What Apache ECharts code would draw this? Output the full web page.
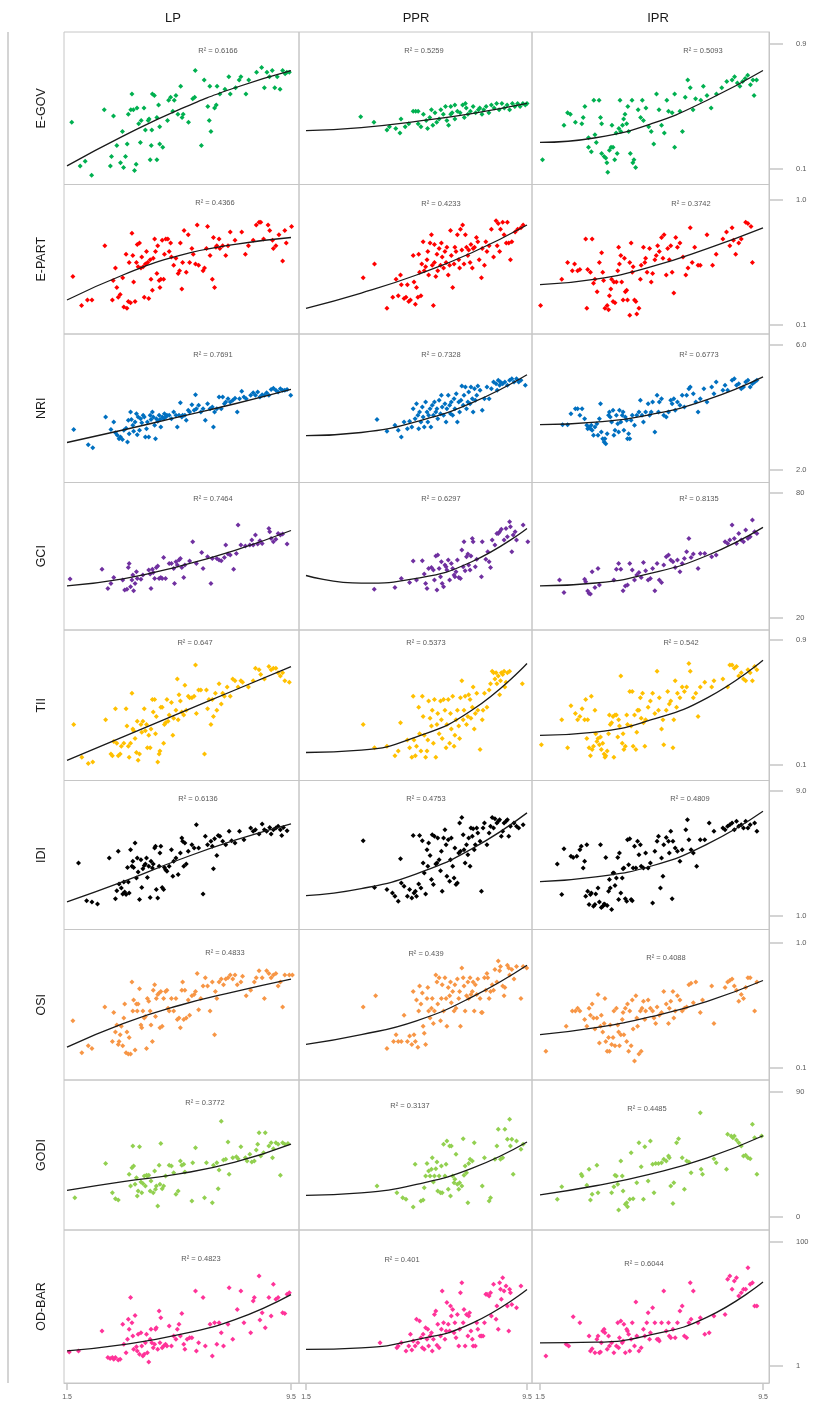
<!DOCTYPE html>
<html><head><meta charset="utf-8">
<script src="https://cdn.jsdelivr.net/npm/echarts@6/dist/echarts.min.js"></script>
<style>html,body{margin:0;padding:0;background:#fff}#c{width:820px;height:1426px}</style>
</head><body><div id="c"></div>
<script>
// ---------- categories / ticks ----------
const columns = ['LP', 'PPR', 'IPR'];
const indicators = ['E-GOV', 'E-PART', 'NRI', 'GCI', 'TII', 'IDI', 'OSI', 'GODI', 'OD-BAR'];
const pointColors = ['#00b050', '#ff0000', '#0070c0', '#7030a0', '#ffc000', '#000000', '#f79646', '#92d050', '#ff3399'];
const yTickValues = [[0.1, 0.9], [0.1, 1.0], [2, 6], [20, 80], [0.1, 0.9], [1, 9], [0.1, 1.0], [0, 90], [1, 100]];
const yTickLabels = [['0.1', '0.9'], ['0.1', '1.0'], ['2.0', '6.0'], ['20', '80'], ['0.1', '0.9'], ['1.0', '9.0'], ['0.1', '1.0'], ['0', '90'], ['1', '100']];
const xTickValues = [1.5, 9.5];
const xTickLabels = ['1.5', '9.5'];
const fitX = [1.5, 3.5, 5.5, 7.5, 9.5];

// ---------- R² values ----------
const r2EGOV = ['0.6166', '0.5259', '0.5093'];
const r2EPART = ['0.4366', '0.4233', '0.3742'];
const r2NRI = ['0.7691', '0.7328', '0.6773'];
const r2GCI = ['0.7464', '0.6297', '0.8135'];
const r2TII = ['0.647', '0.5373', '0.542'];
const r2IDI = ['0.6136', '0.4753', '0.4809'];
const r2OSI = ['0.4833', '0.439', '0.4088'];
const r2GODI = ['0.3772', '0.3137', '0.4485'];
const r2ODBAR = ['0.4823', '0.401', '0.6044'];

// ---------- trend lines (values at fitX) ----------
const fitEGOV = [[0.12, 0.31, 0.48, 0.62, 0.73], [0.345, 0.365, 0.405, 0.455, 0.52], [0.27, 0.30, 0.39, 0.54, 0.73]];
const fitEPART = [[0.28, 0.46, 0.60, 0.68, 0.73], [0.22, 0.33, 0.46, 0.62, 0.82], [0.39, 0.43, 0.52, 0.65, 0.80]];
const fitNRI = [[2.88, 3.28, 3.70, 4.12, 4.58], [3.10, 3.20, 3.55, 4.15, 5.05], [3.45, 3.53, 3.78, 4.25, 4.98]];
const fitGCI = [[35.4, 38.8, 44.8, 52.5, 62.0], [40.4, 36.7, 39.0, 47.0, 63.0], [35.4, 36.8, 41.5, 50.0, 63.5]];
const fitTII = [[0.13, 0.28, 0.43, 0.58, 0.73], [0.18, 0.195, 0.28, 0.45, 0.75], [0.29, 0.31, 0.39, 0.53, 0.77]];
const fitIDI = [[1.9, 3.2, 4.6, 5.85, 6.9], [2.3, 2.75, 3.7, 5.3, 7.6], [3.2, 3.5, 4.2, 5.6, 7.7]];
const fitOSI = [[0.25, 0.42, 0.55, 0.65, 0.74], [0.27, 0.34, 0.44, 0.61, 0.84], [0.34, 0.39, 0.47, 0.58, 0.73]];
const fitGODI = [[19.2, 25.5, 31.0, 39.5, 52.5], [15.6, 17.3, 23.5, 35.0, 54.0], [16.0, 22.5, 31.0, 42.5, 58.5]];
const fitODBAR = [[13.0, 18.0, 26.0, 38.0, 58.0], [14.3, 15.5, 22.0, 35.0, 62.0], [19.5, 20.0, 26.0, 40.0, 68.0]];

// ---------- scatter points [x, y] ----------
const egovLP = [[1.67,0.40],[1.97,0.12],[2.15,0.15],[2.38,0.06],[2.83,0.48],[3.05,0.12],[3.09,0.18],[3.16,0.44],[3.28,0.25],[3.41,0.14],[3.52,0.11],[3.59,0.18],[3.65,0.26],[3.69,0.45],[3.78,0.48],[3.82,0.58],[3.91,0.09],[4.0,0.49],[4.06,0.39],[3.97,0.13],[4.15,0.41],[4.25,0.49],[4.3,0.35],[4.4,0.41],[4.43,0.42],[4.47,0.16],[4.51,0.25],[4.55,0.58],[4.62,0.57],[4.71,0.43],[4.71,0.16],[4.77,0.51],[4.81,0.26],[4.92,0.24],[4.81,0.37],[5.09,0.41],[5.13,0.54],[5.2,0.56],[5.33,0.54],[5.39,0.57],[5.46,0.45],[5.56,0.63],[5.61,0.43],[5.65,0.45],[5.99,0.55],[6.06,0.56],[6.08,0.73],[6.3,0.25],[6.4,0.67],[6.53,0.5],[6.58,0.41],[6.6,0.63],[6.64,0.34],[6.77,0.49],[6.83,0.51],[6.86,0.63],[6.96,0.58],[7.14,0.61],[7.28,0.69],[7.33,0.58],[7.52,0.62],[7.65,0.67],[7.71,0.69],[7.89,0.58],[7.99,0.67],[8.27,0.72],[8.45,0.75],[8.55,0.62],[8.64,0.72],[8.73,0.69],[8.83,0.73],[8.92,0.62],[9.01,0.69],[9.11,0.61],[9.2,0.73],[9.29,0.71],[9.35,0.72],[9.44,0.72],[3.87,0.48],[4.53,0.35],[5.28,0.47],[5.84,0.4],[4.12,0.27],[3.48,0.34]];
const egovPPR = [[3.48,0.435],[3.96,0.40],[4.43,0.35],[4.52,0.37],[4.75,0.36],[4.9,0.33],[4.94,0.42],[5.09,0.37],[5.22,0.39],[5.38,0.47],[5.47,0.47],[5.56,0.47],[5.56,0.39],[5.66,0.37],[5.75,0.45],[5.85,0.41],[5.9,0.36],[5.98,0.43],[6.04,0.48],[6.09,0.38],[6.17,0.46],[6.23,0.4],[6.32,0.42],[6.38,0.48],[6.47,0.45],[6.55,0.5],[6.6,0.41],[6.66,0.38],[6.74,0.45],[6.79,0.46],[6.89,0.42],[6.98,0.47],[7.08,0.46],[7.17,0.51],[7.23,0.43],[7.3,0.49],[7.36,0.45],[7.45,0.47],[7.55,0.5],[7.64,0.46],[7.74,0.48],[7.79,0.49],[7.87,0.45],[7.93,0.48],[8.02,0.5],[8.12,0.46],[8.21,0.51],[8.31,0.49],[8.4,0.52],[8.49,0.48],[8.59,0.52],[8.68,0.49],[8.78,0.51],[8.87,0.48],[8.97,0.52],[9.06,0.5],[9.16,0.52],[9.25,0.5],[9.35,0.52],[9.44,0.51],[9.5,0.52],[6.74,0.5],[6.89,0.51],[7.27,0.52]];
const egovIPR = [[1.59,0.16],[2.36,0.38],[2.49,0.46],[2.59,0.45],[2.77,0.40],[3.0,0.39],[3.05,0.43],[3.11,0.50],[3.24,0.30],[3.24,0.24],[3.34,0.21],[3.43,0.54],[3.47,0.32],[3.52,0.27],[3.62,0.54],[3.67,0.43],[3.71,0.39],[3.71,0.20],[3.8,0.18],[3.86,0.17],[3.9,0.14],[3.93,0.08],[3.99,0.22],[4.05,0.24],[4.08,0.38],[4.12,0.24],[4.18,0.16],[4.23,0.33],[4.27,0.20],[4.33,0.36],[4.37,0.54],[4.4,0.34],[4.46,0.38],[4.5,0.42],[4.55,0.45],[4.61,0.39],[4.65,0.50],[4.68,0.34],[4.74,0.20],[4.8,0.54],[4.83,0.14],[4.87,0.16],[4.93,0.11],[5.02,0.48],[5.11,0.43],[5.17,0.54],[5.21,0.41],[5.3,0.49],[5.4,0.37],[5.49,0.34],[5.58,0.26],[5.68,0.58],[5.77,0.48],[5.86,0.38],[5.96,0.33],[6.05,0.54],[6.11,0.47],[6.24,0.46],[6.33,0.24],[6.33,0.58],[6.52,0.47],[6.61,0.34],[6.71,0.56],[6.8,0.67],[6.89,0.62],[6.99,0.48],[7.08,0.55],[7.27,0.54],[7.36,0.63],[7.49,0.57],[7.64,0.49],[7.83,0.58],[8.02,0.62],[8.2,0.66],[8.39,0.67],[8.48,0.69],[8.58,0.65],[8.67,0.63],[8.77,0.66],[8.86,0.68],[8.95,0.70],[9.05,0.64],[9.14,0.67],[9.18,0.57],[9.27,0.67]];

const epartLP = [[1.71,0.45],[2.02,0.24],[2.23,0.28],[2.39,0.28],[2.85,0.67],[3.12,0.28],[3.15,0.42],[3.23,0.51],[3.28,0.37],[3.33,0.30],[3.4,0.32],[3.49,0.44],[3.53,0.23],[3.61,0.61],[3.64,0.22],[3.69,0.27],[3.72,0.55],[3.77,0.26],[3.82,0.76],[3.85,0.60],[3.88,0.41],[3.93,0.27],[3.98,0.55],[4.01,0.68],[4.04,0.52],[4.09,0.69],[4.14,0.51],[4.17,0.59],[4.22,0.52],[4.26,0.30],[4.3,0.54],[4.34,0.63],[4.38,0.55],[4.42,0.29],[4.47,0.57],[4.5,0.43],[4.55,0.35],[4.58,0.58],[4.63,0.72],[4.66,0.63],[4.71,0.47],[4.74,0.67],[4.79,0.42],[4.82,0.37],[4.85,0.43],[4.9,0.71],[4.95,0.43],[4.98,0.61],[5.03,0.72],[5.1,0.72],[5.15,0.63],[5.2,0.69],[5.23,0.59],[5.31,0.53],[5.39,0.58],[5.47,0.47],[5.52,0.49],[5.55,0.69],[5.6,0.36],[5.63,0.55],[5.68,0.78],[5.76,0.48],[5.83,0.75],[5.88,0.55],[5.96,0.65],[6.01,0.61],[6.09,0.54],[6.15,0.82],[6.2,0.53],[6.36,0.49],[6.41,0.51],[6.48,0.65],[6.52,0.81],[6.61,0.60],[6.69,0.43],[6.73,0.73],[6.77,0.37],[6.82,0.66],[6.85,0.67],[6.93,0.72],[6.96,0.65],[7.06,0.67],[7.17,0.60],[7.25,0.67],[7.33,0.77],[7.5,0.71],[7.74,0.77],[7.87,0.61],[7.98,0.67],[8.15,0.71],[8.26,0.82],[8.36,0.84],[8.42,0.84],[8.52,0.72],[8.68,0.82],[8.74,0.78],[8.84,0.71],[8.87,0.65],[8.96,0.67],[9.07,0.75],[9.2,0.56],[9.28,0.78],[9.33,0.69],[9.52,0.81]];
const epartPPR = [[3.57,0.44],[3.98,0.54],[4.43,0.22],[4.64,0.30],[4.76,0.43],[4.84,0.31],[4.92,0.46],[4.95,0.39],[5.05,0.29],[5.12,0.30],[5.17,0.39],[5.22,0.27],[5.28,0.28],[5.38,0.60],[5.41,0.41],[5.46,0.25],[5.5,0.37],[5.55,0.30],[5.58,0.61],[5.61,0.48],[5.66,0.31],[5.69,0.54],[5.74,0.70],[5.78,0.49],[5.83,0.52],[5.88,0.57],[5.91,0.63],[5.94,0.46],[5.99,0.69],[6.04,0.75],[6.07,0.53],[6.11,0.24],[6.15,0.68],[6.15,0.55],[6.2,0.45],[6.24,0.61],[6.27,0.49],[6.32,0.65],[6.37,0.53],[6.4,0.69],[6.43,0.59],[6.48,0.51],[6.53,0.63],[6.57,0.55],[6.6,0.66],[6.65,0.46],[6.7,0.53],[6.73,0.78],[6.76,0.60],[6.81,0.37],[6.86,0.54],[6.89,0.66],[6.93,0.63],[6.98,0.75],[7.03,0.57],[7.06,0.51],[7.09,0.79],[7.14,0.64],[7.17,0.82],[7.22,0.54],[7.27,0.75],[7.31,0.66],[7.36,0.60],[7.39,0.64],[7.44,0.55],[7.47,0.68],[7.52,0.51],[7.55,0.65],[7.6,0.66],[7.67,0.73],[7.72,0.70],[7.77,0.57],[7.85,0.44],[7.88,0.65],[7.96,0.53],[8.01,0.70],[8.05,0.63],[8.13,0.67],[8.21,0.79],[8.29,0.59],[8.38,0.85],[8.42,0.67],[8.46,0.83],[8.51,0.63],[8.54,0.79],[8.62,0.84],[8.67,0.75],[8.75,0.69],[8.79,0.84],[8.84,0.69],[8.9,0.57],[8.95,0.70],[9.07,0.77],[9.16,0.79],[9.28,0.80],[9.36,0.82]];
const epartIPR = [[1.52,0.24],[2.28,0.43],[2.49,0.55],[2.66,0.49],[2.74,0.54],[2.85,0.49],[2.93,0.50],[3.14,0.72],[3.18,0.22],[3.21,0.50],[3.31,0.48],[3.37,0.72],[3.42,0.40],[3.47,0.43],[3.55,0.34],[3.63,0.55],[3.71,0.62],[3.75,0.48],[3.78,0.42],[3.83,0.22],[3.91,0.24],[3.96,0.21],[3.99,0.31],[4.04,0.36],[4.07,0.43],[4.12,0.27],[4.15,0.41],[4.19,0.26],[4.24,0.41],[4.29,0.49],[4.32,0.66],[4.35,0.54],[4.4,0.60],[4.43,0.41],[4.48,0.28],[4.53,0.58],[4.56,0.34],[4.61,0.35],[4.64,0.28],[4.72,0.17],[4.72,0.55],[4.77,0.69],[4.81,0.48],[4.84,0.52],[4.89,0.28],[4.94,0.27],[4.97,0.18],[5.05,0.22],[5.1,0.43],[5.13,0.53],[5.21,0.66],[5.26,0.55],[5.29,0.58],[5.34,0.48],[5.43,0.65],[5.49,0.41],[5.54,0.47],[5.62,0.57],[5.67,0.60],[5.72,0.67],[5.78,0.63],[5.86,0.73],[5.91,0.58],[5.95,0.75],[6.03,0.46],[6.08,0.65],[6.14,0.57],[6.19,0.67],[6.24,0.48],[6.3,0.33],[6.37,0.73],[6.43,0.66],[6.52,0.69],[6.63,0.59],[6.73,0.46],[6.81,0.51],[6.89,0.80],[6.96,0.55],[7.05,0.66],[7.17,0.53],[7.25,0.53],[7.49,0.75],[7.69,0.53],[7.82,0.61],[8.06,0.72],[8.19,0.77],[8.31,0.67],[8.39,0.80],[8.44,0.71],[8.52,0.61],[8.63,0.69],[8.72,0.72],[8.88,0.84],[8.96,0.83],[9.07,0.81],[9.12,0.55]];

const nriLP = [[1.74,3.30],[2.26,2.81],[2.42,2.71],[2.88,3.70],[3.07,3.30],[3.17,3.54],[3.23,3.19],[3.3,3.11],[3.36,3.00],[3.41,3.06],[3.48,2.98],[3.53,3.27],[3.61,3.34],[3.66,2.90],[3.69,3.59],[3.72,3.16],[3.77,3.86],[3.8,3.62],[3.85,3.43],[3.88,3.24],[3.93,3.54],[3.98,3.80],[4.01,3.13],[4.04,3.70],[4.09,3.27],[4.13,3.64],[4.17,3.51],[4.22,3.75],[4.26,3.70],[4.3,3.06],[4.34,3.32],[4.37,3.54],[4.42,3.06],[4.47,3.75],[4.5,3.62],[4.55,3.86],[4.58,3.70],[4.63,3.43],[4.66,3.00],[4.69,3.64],[4.74,3.56],[4.79,3.75],[4.82,3.62],[4.85,3.38],[4.9,3.70],[4.95,3.64],[4.98,3.80],[5.03,3.70],[5.07,3.75],[5.15,3.75],[5.23,3.64],[5.31,3.86],[5.39,3.75],[5.44,3.38],[5.5,3.75],[5.55,4.15],[5.6,3.70],[5.63,3.75],[5.71,3.75],[5.76,3.59],[5.83,3.91],[5.88,3.86],[5.96,4.09],[6.04,3.91],[6.09,4.41],[6.12,3.96],[6.2,4.07],[6.28,3.86],[6.36,3.96],[6.44,3.59],[6.52,4.12],[6.61,3.96],[6.69,4.02],[6.73,3.38],[6.77,3.86],[6.85,3.96],[6.93,4.34],[7.01,3.96],[7.06,4.34],[7.12,4.12],[7.17,4.18],[7.25,4.28],[7.33,4.18],[7.42,4.23],[7.5,4.30],[7.58,3.86],[7.66,4.28],[7.74,4.52],[7.82,4.34],[7.9,4.28],[8.06,4.39],[8.15,4.47],[8.23,4.39],[8.31,4.50],[8.39,4.34],[8.47,4.41],[8.55,4.39],[8.63,4.47],[8.71,4.39],[8.79,4.58],[8.87,4.62],[8.96,4.55],[9.04,4.50],[9.12,4.60],[9.2,4.55],[9.28,4.55],[9.36,4.58],[9.49,4.39]];
const nriPPR = [[4.07,3.62],[4.43,3.24],[4.72,3.43],[4.84,3.27],[4.95,3.06],[5.05,3.54],[5.17,3.32],[5.25,3.56],[5.33,3.38],[5.38,3.96],[5.45,3.64],[5.5,4.12],[5.55,3.75],[5.58,3.32],[5.61,3.86],[5.66,3.54],[5.71,4.02],[5.74,3.70],[5.78,3.38],[5.83,4.18],[5.88,3.86],[5.91,3.54],[5.94,3.75],[5.99,3.96],[6.02,3.38],[6.07,4.07],[6.11,3.75],[6.15,4.18],[6.2,3.86],[6.24,3.96],[6.27,3.64],[6.32,4.23],[6.37,3.80],[6.4,4.39],[6.43,4.02],[6.48,3.75],[6.53,4.12],[6.57,3.54],[6.6,3.96],[6.65,4.39],[6.7,4.07],[6.73,3.80],[6.76,4.18],[6.81,3.75],[6.86,4.28],[6.89,3.96],[6.94,4.44],[6.98,3.54],[7.03,4.18],[7.06,3.86],[7.11,4.23],[7.14,4.69],[7.19,4.07],[7.22,4.39],[7.27,4.66],[7.31,3.96],[7.36,4.18],[7.39,4.50],[7.44,4.12],[7.47,4.66],[7.52,4.28],[7.55,3.86],[7.6,4.60],[7.63,4.23],[7.68,4.39],[7.72,4.69],[7.8,4.55],[7.88,3.91],[7.96,4.28],[8.05,4.66],[8.13,4.28],[8.21,4.60],[8.29,4.82],[8.38,4.76],[8.42,4.55],[8.46,4.87],[8.51,4.71],[8.54,4.82],[8.62,4.76],[8.7,4.82],[8.79,4.71],[8.87,4.87],[8.95,4.92],[9.03,4.82],[9.12,4.92],[9.2,4.82],[9.28,4.87],[9.44,4.71]];
const nriIPR = [[2.31,3.45],[2.49,3.45],[2.61,3.80],[2.77,3.96],[2.85,3.96],[2.93,3.75],[3.01,3.96],[3.1,3.64],[3.18,3.43],[3.21,3.32],[3.26,3.38],[3.31,3.32],[3.34,3.43],[3.37,3.27],[3.42,3.11],[3.47,3.38],[3.54,3.48],[3.58,3.11],[3.63,3.64],[3.67,4.12],[3.7,3.22],[3.75,3.00],[3.8,2.90],[3.83,3.00],[3.86,2.84],[3.91,3.16],[3.96,3.75],[3.99,3.86],[4.02,3.70],[4.07,3.54],[4.12,3.91],[4.15,3.11],[4.19,3.27],[4.24,3.75],[4.29,3.48],[4.32,3.22],[4.35,3.91],[4.4,3.54],[4.45,3.75],[4.48,3.86],[4.51,3.27],[4.56,3.70],[4.61,3.59],[4.64,3.00],[4.68,3.16],[4.72,3.00],[4.77,3.59],[4.81,3.75],[4.89,3.43],[4.97,3.75],[5.05,3.86],[5.1,4.23],[5.16,3.75],[5.21,3.54],[5.29,3.86],[5.38,4.12],[5.43,3.75],[5.49,3.86],[5.54,4.18],[5.62,3.22],[5.7,4.39],[5.75,3.86],[5.78,4.18],[5.86,4.28],[5.94,3.75],[6.03,3.70],[6.11,3.86],[6.19,4.23],[6.24,4.12],[6.3,4.28],[6.35,3.91],[6.43,4.18],[6.52,4.07],[6.6,4.39],[6.68,4.02],[6.76,4.39],[6.84,4.60],[6.89,4.66],[7.0,4.44],[7.09,4.18],[7.17,3.86],[7.25,4.28],[7.38,4.60],[7.49,4.18],[7.66,4.66],[7.74,4.44],[7.82,4.82],[8.06,4.55],[8.14,4.71],[8.23,4.55],[8.39,4.87],[8.47,4.92],[8.55,4.71],[8.63,4.76],[8.72,4.60],[8.8,4.66],[8.88,4.82],[8.96,4.87],[9.04,4.66],[9.12,4.76],[9.2,4.82],[9.28,4.87]];

const gciLP = [[1.61,38.7],[2.75,43.4],[2.96,34.2],[3.07,36.6],[3.17,39.5],[3.49,38.2],[3.56,33.4],[3.64,33.8],[3.69,44.3],[3.72,46.2],[3.77,35.0],[3.82,38.2],[3.85,40.6],[3.88,33.1],[3.93,36.6],[3.98,42.2],[4.01,39.0],[4.14,38.6],[4.21,40.6],[4.42,43.0],[4.47,41.1],[4.5,34.2],[4.55,43.4],[4.58,41.8],[4.63,39.0],[4.69,44.3],[4.74,45.0],[4.79,39.0],[4.85,39.5],[4.9,39.0],[4.95,49.1],[5.02,39.0],[5.15,46.2],[5.23,46.2],[5.31,43.8],[5.34,36.6],[5.39,47.0],[5.44,45.4],[5.5,47.8],[5.55,48.6],[5.6,44.3],[5.67,39.5],[5.71,45.4],[5.88,47.4],[5.99,56.6],[6.12,46.2],[6.31,51.4],[6.36,43.8],[6.52,49.4],[6.64,36.6],[6.69,48.6],[6.85,48.6],[6.93,47.8],[7.01,47.5],[7.12,49.1],[7.17,55.0],[7.25,50.7],[7.33,50.2],[7.45,43.4],[7.55,51.0],[7.61,64.6],[7.71,55.0],[7.87,54.6],[8.03,55.0],[8.1,57.4],[8.15,55.0],[8.23,59.8],[8.31,55.5],[8.39,57.1],[8.47,55.8],[8.71,63.0],[8.74,61.4],[8.79,58.2],[8.87,56.6],[8.96,57.8],[9.04,60.6],[9.12,59.8],[9.2,60.3],[9.36,55.5]];
const gciPPR = [[3.97,33.8],[4.72,34.6],[4.95,39.0],[5.25,37.0],[5.38,47.4],[5.5,38.2],[5.71,47.5],[5.78,41.1],[5.83,36.6],[5.88,34.2],[5.94,43.8],[6.04,44.3],[6.11,43.0],[6.15,38.2],[6.2,49.8],[6.24,33.4],[6.27,50.2],[6.32,43.8],[6.37,39.8],[6.4,47.0],[6.43,36.6],[6.48,35.0],[6.53,45.4],[6.57,44.6],[6.6,43.0],[6.65,47.8],[6.7,38.2],[6.76,46.2],[6.81,43.8],[6.86,40.6],[6.89,39.8],[6.93,42.2],[6.98,47.8],[7.03,39.5],[7.09,39.0],[7.14,52.6],[7.19,44.6],[7.22,56.6],[7.26,42.7],[7.31,49.4],[7.36,50.7],[7.39,45.4],[7.44,43.0],[7.47,49.8],[7.52,58.2],[7.55,56.6],[7.63,44.6],[7.68,48.2],[7.85,39.8],[7.88,56.6],[8.01,48.2],[8.08,51.8],[8.13,47.0],[8.18,44.3],[8.24,57.4],[8.34,55.0],[8.41,60.6],[8.46,60.6],[8.51,61.4],[8.57,62.6],[8.67,57.4],[8.74,63.0],[8.79,59.0],[8.87,66.2],[8.9,63.8],[8.95,51.8],[9.0,59.8],[9.07,61.4],[9.12,57.4],[9.36,64.6],[9.53,56.6]];
const gciIPR = [[2.2,38.2],[2.36,32.2],[3.1,38.6],[3.14,37.4],[3.21,33.0],[3.26,31.8],[3.31,31.5],[3.37,42.2],[3.47,34.7],[3.58,43.8],[3.63,35.8],[4.15,38.2],[4.24,43.4],[4.32,46.2],[4.4,43.4],[4.48,33.1],[4.56,35.4],[4.64,35.8],[4.72,46.2],[4.81,43.0],[4.89,38.2],[4.97,40.6],[5.05,41.8],[5.13,39.5],[5.21,46.6],[5.29,42.7],[5.38,38.2],[5.46,39.0],[5.54,43.8],[5.62,33.1],[5.7,46.2],[5.78,38.2],[5.86,37.0],[5.94,45.4],[6.03,49.4],[6.11,50.2],[6.19,47.8],[6.27,47.0],[6.35,44.3],[6.43,47.8],[6.52,42.2],[6.6,46.2],[6.68,48.6],[6.76,51.8],[6.84,58.2],[6.92,49.1],[7.0,50.7],[7.17,43.8],[7.25,51.0],[7.41,51.0],[7.66,49.4],[7.82,50.2],[8.14,56.6],[8.23,55.8],[8.31,57.4],[8.39,64.6],[8.47,58.2],[8.55,55.8],[8.63,60.6],[8.72,57.4],[8.8,56.6],[8.88,62.2],[8.96,58.2],[9.04,59.0],[9.12,67.0],[9.2,61.4],[9.28,60.6]];

const tiiLP = [[1.74,0.36],[2.03,0.15],[2.26,0.11],[2.42,0.12],[2.88,0.39],[3.07,0.17],[3.12,0.16],[3.17,0.25],[3.23,0.46],[3.28,0.24],[3.33,0.16],[3.4,0.17],[3.44,0.22],[3.53,0.24],[3.61,0.46],[3.64,0.35],[3.69,0.22],[3.72,0.15],[3.77,0.24],[3.82,0.56],[3.85,0.33],[3.88,0.32],[3.93,0.27],[3.98,0.18],[4.01,0.38],[4.04,0.13],[4.09,0.17],[4.14,0.36],[4.17,0.31],[4.21,0.38],[4.26,0.46],[4.3,0.32],[4.34,0.36],[4.37,0.21],[4.42,0.29],[4.47,0.21],[4.5,0.33],[4.55,0.52],[4.58,0.44],[4.63,0.52],[4.66,0.30],[4.69,0.41],[4.74,0.12],[4.79,0.17],[4.82,0.19],[4.85,0.47],[4.9,0.47],[4.95,0.24],[4.98,0.36],[5.02,0.37],[5.07,0.52],[5.11,0.38],[5.15,0.42],[5.23,0.50],[5.28,0.29],[5.31,0.40],[5.39,0.45],[5.44,0.65],[5.47,0.39],[5.5,0.55],[5.55,0.51],[5.6,0.44],[5.67,0.42],[5.71,0.61],[5.76,0.45],[5.83,0.54],[5.88,0.53],[5.96,0.53],[6.04,0.54],[6.09,0.74],[6.12,0.43],[6.2,0.58],[6.28,0.58],[6.41,0.17],[6.48,0.58],[6.52,0.46],[6.57,0.52],[6.64,0.36],[6.69,0.52],[6.73,0.41],[6.8,0.56],[6.85,0.45],[6.93,0.62],[7.01,0.49],[7.06,0.56],[7.12,0.54],[7.22,0.60],[7.33,0.54],[7.42,0.65],[7.5,0.64],[7.61,0.60],[7.71,0.64],[7.77,0.63],[7.98,0.60],[8.15,0.64],[8.23,0.72],[8.36,0.71],[8.42,0.68],[8.55,0.65],[8.71,0.73],[8.79,0.71],[8.87,0.72],[8.96,0.72],[9.04,0.69],[9.12,0.67],[9.2,0.69],[9.28,0.64],[9.44,0.63]];
const tiiPPR = [[3.57,0.36],[3.98,0.21],[4.43,0.22],[4.72,0.16],[4.84,0.19],[4.92,0.37],[5.17,0.26],[5.25,0.21],[5.33,0.15],[5.38,0.54],[5.41,0.26],[5.46,0.16],[5.5,0.22],[5.58,0.47],[5.61,0.30],[5.66,0.19],[5.71,0.54],[5.74,0.41],[5.78,0.29],[5.83,0.15],[5.88,0.19],[5.91,0.26],[5.94,0.51],[5.99,0.40],[6.04,0.35],[6.07,0.45],[6.11,0.24],[6.15,0.52],[6.2,0.15],[6.24,0.36],[6.27,0.43],[6.32,0.30],[6.37,0.51],[6.4,0.39],[6.43,0.27],[6.48,0.52],[6.53,0.45],[6.57,0.21],[6.6,0.36],[6.65,0.52],[6.7,0.24],[6.73,0.43],[6.76,0.33],[6.81,0.54],[6.86,0.22],[6.89,0.29],[6.93,0.39],[6.98,0.45],[7.03,0.35],[7.06,0.27],[7.09,0.53],[7.14,0.64],[7.19,0.39],[7.22,0.45],[7.26,0.54],[7.31,0.36],[7.36,0.41],[7.39,0.55],[7.44,0.52],[7.47,0.40],[7.52,0.47],[7.55,0.60],[7.59,0.33],[7.63,0.43],[7.68,0.56],[7.72,0.45],[7.8,0.20],[7.88,0.39],[7.91,0.45],[7.96,0.56],[8.05,0.47],[8.13,0.58],[8.18,0.62],[8.24,0.70],[8.29,0.69],[8.34,0.65],[8.38,0.69],[8.41,0.62],[8.46,0.67],[8.51,0.55],[8.54,0.64],[8.57,0.69],[8.62,0.68],[8.67,0.70],[8.7,0.60],[8.74,0.63],[8.79,0.69],[8.87,0.70],[9.33,0.62]];
const tiiIPR = [[1.55,0.23],[2.28,0.39],[2.49,0.21],[2.61,0.48],[2.77,0.43],[2.85,0.39],[2.93,0.41],[3.01,0.46],[3.1,0.39],[3.14,0.52],[3.18,0.27],[3.21,0.39],[3.26,0.21],[3.31,0.16],[3.34,0.54],[3.37,0.20],[3.42,0.22],[3.47,0.45],[3.5,0.30],[3.54,0.25],[3.58,0.27],[3.63,0.23],[3.67,0.28],[3.7,0.20],[3.75,0.24],[3.8,0.17],[3.83,0.15],[3.86,0.16],[3.91,0.19],[3.96,0.30],[3.99,0.42],[4.02,0.36],[4.07,0.37],[4.12,0.41],[4.15,0.15],[4.19,0.42],[4.24,0.42],[4.29,0.28],[4.32,0.39],[4.35,0.35],[4.4,0.67],[4.45,0.24],[4.48,0.30],[4.51,0.20],[4.56,0.22],[4.61,0.42],[4.64,0.36],[4.72,0.57],[4.77,0.35],[4.81,0.57],[4.84,0.22],[4.89,0.42],[4.94,0.20],[4.97,0.31],[5.0,0.45],[5.05,0.45],[5.1,0.53],[5.13,0.40],[5.18,0.56],[5.21,0.37],[5.26,0.22],[5.29,0.39],[5.38,0.47],[5.46,0.51],[5.54,0.56],[5.62,0.43],[5.7,0.70],[5.75,0.45],[5.78,0.53],[5.86,0.33],[5.91,0.39],[5.94,0.23],[6.03,0.45],[6.08,0.57],[6.14,0.49],[6.19,0.51],[6.27,0.21],[6.3,0.39],[6.35,0.64],[6.4,0.47],[6.43,0.56],[6.52,0.53],[6.6,0.60],[6.68,0.57],[6.76,0.60],[6.84,0.75],[6.89,0.70],[7.0,0.53],[7.09,0.56],[7.17,0.41],[7.25,0.60],[7.41,0.63],[7.66,0.60],[7.74,0.64],[8.06,0.65],[8.23,0.60],[8.31,0.74],[8.39,0.74],[8.47,0.72],[8.55,0.73],[8.63,0.67],[8.72,0.69],[8.8,0.65],[8.88,0.64],[8.96,0.71],[9.04,0.69],[9.12,0.64],[9.2,0.73],[9.28,0.71]];

const idiLP = [[1.91,4.39],[2.2,1.98],[2.39,1.90],[2.59,1.77],[3.01,4.71],[3.23,2.11],[3.28,2.62],[3.33,5.14],[3.36,3.05],[3.44,2.79],[3.49,2.41],[3.53,3.18],[3.56,2.54],[3.61,2.37],[3.66,4.11],[3.69,3.18],[3.72,2.47],[3.77,5.24],[3.82,4.18],[3.85,4.50],[3.88,4.11],[3.93,5.67],[3.98,3.43],[4.01,4.71],[4.04,3.82],[4.09,2.05],[4.14,4.60],[4.17,2.83],[4.21,4.03],[4.26,4.24],[4.3,4.33],[4.34,4.71],[4.37,3.47],[4.42,4.18],[4.47,2.19],[4.5,4.50],[4.55,4.07],[4.58,4.33],[4.63,5.35],[4.66,5.46],[4.69,2.69],[4.74,2.15],[4.79,4.18],[4.82,5.03],[4.85,5.46],[4.9,2.83],[4.95,2.69],[4.98,4.11],[5.02,3.96],[5.07,3.86],[5.15,4.18],[5.23,5.24],[5.28,3.54],[5.31,4.50],[5.39,4.71],[5.47,3.65],[5.55,5.03],[5.6,5.99],[5.63,5.78],[5.67,4.18],[5.71,5.67],[5.76,4.33],[5.83,5.14],[5.96,5.56],[6.04,5.35],[6.12,6.84],[6.2,5.35],[6.36,2.41],[6.44,6.10],[6.52,5.56],[6.64,5.78],[6.69,5.46],[6.73,4.03],[6.77,5.95],[6.85,4.88],[6.9,6.16],[6.96,6.10],[7.06,5.78],[7.17,5.56],[7.29,6.42],[7.38,5.82],[7.5,5.67],[7.66,6.42],[7.82,5.88],[8.06,6.63],[8.15,6.42],[8.23,6.52],[8.36,6.25],[8.47,6.89],[8.55,6.52],[8.63,6.42],[8.74,6.67],[8.79,6.25],[8.87,6.52],[8.96,6.63],[9.04,6.74],[9.12,6.52],[9.17,6.16],[9.23,6.67],[9.36,6.46]];
const idiPPR = [[3.57,5.82],[3.98,2.83],[4.43,2.69],[4.63,2.47],[4.72,2.26],[4.84,1.94],[4.92,4.67],[4.95,3.11],[5.05,2.90],[5.17,2.26],[5.25,2.69],[5.33,2.15],[5.38,6.16],[5.41,2.47],[5.46,2.58],[5.5,2.26],[5.58,3.05],[5.61,6.16],[5.66,2.79],[5.71,5.82],[5.74,4.39],[5.78,3.75],[5.83,2.41],[5.88,5.24],[5.91,4.18],[5.94,5.67],[5.99,4.88],[6.04,3.33],[6.07,6.20],[6.11,3.01],[6.15,6.10],[6.2,4.33],[6.24,4.39],[6.27,5.99],[6.32,4.60],[6.37,3.90],[6.4,5.14],[6.43,2.58],[6.48,5.99],[6.53,6.52],[6.57,5.56],[6.6,3.54],[6.65,5.88],[6.7,3.22],[6.73,4.60],[6.76,5.99],[6.81,4.18],[6.86,3.43],[6.89,5.35],[6.93,3.01],[6.98,3.11],[7.03,5.03],[7.06,6.95],[7.09,5.14],[7.14,7.31],[7.19,6.20],[7.22,5.24],[7.26,4.39],[7.31,5.56],[7.36,4.92],[7.39,5.99],[7.44,4.18],[7.47,6.63],[7.52,6.10],[7.55,6.59],[7.59,5.24],[7.63,5.56],[7.68,6.63],[7.72,6.31],[7.8,5.78],[7.85,2.58],[7.91,6.63],[7.96,6.95],[8.05,5.56],[8.13,6.31],[8.18,6.74],[8.24,7.31],[8.29,6.63],[8.34,7.23],[8.41,6.95],[8.46,7.06],[8.51,7.16],[8.57,6.10],[8.62,6.42],[8.67,6.95],[8.74,7.06],[8.79,7.16],[8.84,6.10],[8.9,6.74],[9.03,6.95],[9.12,6.74],[9.2,6.63],[9.36,6.84]];
const idiIPR = [[2.12,4.33],[2.28,2.37],[2.36,5.31],[2.61,4.82],[2.69,4.75],[2.82,4.82],[2.93,5.24],[2.98,5.46],[3.05,4.07],[3.1,4.50],[3.14,2.26],[3.18,5.56],[3.21,2.58],[3.26,1.73],[3.31,2.37],[3.34,2.47],[3.42,1.62],[3.47,1.73],[3.5,2.41],[3.58,2.79],[3.63,1.90],[3.67,5.56],[3.7,1.55],[3.75,1.62],[3.8,1.77],[3.83,1.73],[3.86,4.75],[3.91,1.68],[3.96,2.58],[3.99,3.33],[4.02,2.79],[4.07,1.41],[4.12,3.75],[4.15,3.75],[4.19,2.96],[4.24,3.43],[4.29,4.75],[4.32,2.05],[4.35,5.03],[4.4,2.47],[4.45,3.43],[4.48,4.03],[4.51,4.07],[4.56,2.11],[4.61,1.94],[4.64,5.88],[4.68,4.28],[4.72,5.95],[4.77,2.05],[4.81,1.98],[4.84,4.07],[4.89,5.46],[4.94,4.07],[5.0,5.78],[5.05,4.92],[5.1,5.56],[5.13,4.18],[5.21,4.07],[5.29,5.03],[5.38,4.07],[5.46,4.39],[5.54,1.83],[5.62,5.14],[5.7,5.78],[5.75,6.10],[5.82,2.79],[5.86,4.71],[5.91,3.54],[5.94,5.56],[6.03,6.03],[6.11,5.78],[6.14,5.03],[6.19,6.42],[6.24,2.11],[6.27,5.78],[6.35,5.35],[6.43,5.14],[6.52,4.50],[6.6,5.24],[6.73,6.52],[6.79,7.16],[6.84,5.88],[6.92,5.24],[7.0,5.03],[7.12,4.18],[7.25,5.88],[7.41,5.88],[7.57,6.95],[7.74,6.42],[8.06,6.63],[8.14,6.52],[8.23,6.74],[8.31,6.84],[8.39,6.95],[8.47,6.52],[8.55,7.06],[8.63,6.74],[8.72,6.84],[8.8,6.63],[8.88,7.06],[8.96,6.63],[9.04,6.84],[9.2,6.95],[9.28,6.42]];

const osiLP = [[1.71,0.44],[2.03,0.21],[2.26,0.26],[2.39,0.24],[2.85,0.54],[3.12,0.29],[3.17,0.50],[3.23,0.36],[3.28,0.41],[3.33,0.27],[3.36,0.29],[3.4,0.34],[3.44,0.40],[3.49,0.26],[3.53,0.46],[3.56,0.56],[3.61,0.21],[3.64,0.36],[3.69,0.20],[3.72,0.32],[3.77,0.20],[3.82,0.72],[3.85,0.51],[3.88,0.59],[3.93,0.23],[3.98,0.56],[4.01,0.51],[4.04,0.56],[4.09,0.67],[4.14,0.41],[4.17,0.39],[4.21,0.51],[4.26,0.46],[4.3,0.47],[4.34,0.24],[4.37,0.60],[4.42,0.58],[4.47,0.51],[4.5,0.41],[4.55,0.29],[4.58,0.66],[4.63,0.70],[4.66,0.47],[4.69,0.60],[4.74,0.63],[4.79,0.64],[4.82,0.39],[4.85,0.65],[4.9,0.40],[4.95,0.60],[5.02,0.65],[5.07,0.66],[5.11,0.53],[5.15,0.51],[5.23,0.60],[5.31,0.51],[5.39,0.60],[5.44,0.45],[5.5,0.46],[5.55,0.39],[5.6,0.66],[5.63,0.72],[5.67,0.45],[5.71,0.66],[5.76,0.46],[5.83,0.59],[5.88,0.48],[5.96,0.62],[6.04,0.63],[6.09,0.65],[6.15,0.78],[6.2,0.52],[6.28,0.60],[6.36,0.69],[6.44,0.75],[6.52,0.69],[6.61,0.51],[6.69,0.72],[6.77,0.34],[6.8,0.65],[6.85,0.60],[6.93,0.72],[7.01,0.74],[7.09,0.70],[7.17,0.74],[7.25,0.75],[7.33,0.77],[7.42,0.74],[7.5,0.77],[7.58,0.70],[7.71,0.72],[7.77,0.76],[7.9,0.62],[8.06,0.66],[8.19,0.72],[8.26,0.75],[8.36,0.80],[8.47,0.75],[8.55,0.60],[8.63,0.80],[8.71,0.78],[8.79,0.75],[8.87,0.77],[8.96,0.78],[9.04,0.69],[9.12,0.72],[9.2,0.54],[9.28,0.77],[9.44,0.77],[9.55,0.77]];
const osiPPR = [[3.57,0.54],[4.02,0.62],[4.43,0.24],[4.67,0.29],[4.76,0.34],[4.84,0.29],[4.95,0.29],[5.05,0.48],[5.17,0.29],[5.25,0.33],[5.33,0.27],[5.38,0.65],[5.41,0.34],[5.46,0.29],[5.5,0.59],[5.55,0.25],[5.58,0.51],[5.61,0.69],[5.66,0.56],[5.71,0.64],[5.74,0.40],[5.78,0.35],[5.83,0.27],[5.88,0.60],[5.91,0.68],[5.94,0.51],[5.99,0.46],[6.04,0.53],[6.07,0.60],[6.11,0.42],[6.15,0.51],[6.2,0.77],[6.24,0.72],[6.27,0.56],[6.32,0.75],[6.37,0.44],[6.4,0.60],[6.43,0.70],[6.48,0.51],[6.53,0.75],[6.57,0.60],[6.6,0.40],[6.65,0.68],[6.7,0.62],[6.73,0.72],[6.76,0.57],[6.81,0.65],[6.86,0.51],[6.89,0.70],[6.93,0.53],[6.98,0.74],[7.03,0.60],[7.06,0.65],[7.09,0.40],[7.14,0.82],[7.19,0.75],[7.22,0.69],[7.26,0.51],[7.31,0.62],[7.36,0.72],[7.39,0.60],[7.44,0.75],[7.47,0.63],[7.52,0.65],[7.55,0.72],[7.59,0.51],[7.63,0.70],[7.68,0.63],[7.72,0.74],[7.8,0.60],[7.85,0.50],[7.88,0.50],[7.96,0.75],[8.01,0.66],[8.05,0.78],[8.08,0.75],[8.13,0.60],[8.18,0.65],[8.24,0.70],[8.29,0.66],[8.34,0.81],[8.41,0.72],[8.46,0.87],[8.51,0.80],[8.54,0.83],[8.62,0.69],[8.67,0.62],[8.7,0.68],[8.79,0.84],[8.84,0.82],[8.87,0.77],[8.95,0.81],[9.03,0.74],[9.12,0.83],[9.28,0.60],[9.36,0.83],[9.49,0.82]];
const osiIPR = [[1.71,0.22],[2.44,0.40],[2.66,0.51],[2.77,0.51],[2.85,0.53],[2.93,0.51],[3.1,0.45],[3.18,0.40],[3.26,0.53],[3.31,0.48],[3.37,0.56],[3.42,0.46],[3.47,0.38],[3.54,0.46],[3.58,0.63],[3.63,0.28],[3.67,0.40],[3.7,0.48],[3.75,0.36],[3.8,0.42],[3.83,0.60],[3.86,0.29],[3.91,0.22],[3.96,0.32],[3.99,0.22],[4.02,0.41],[4.07,0.27],[4.12,0.32],[4.15,0.51],[4.19,0.26],[4.24,0.53],[4.29,0.41],[4.32,0.36],[4.35,0.26],[4.4,0.34],[4.45,0.45],[4.48,0.50],[4.51,0.34],[4.56,0.53],[4.61,0.29],[4.64,0.56],[4.68,0.22],[4.72,0.51],[4.77,0.26],[4.81,0.59],[4.84,0.38],[4.89,0.15],[4.94,0.62],[4.97,0.46],[5.0,0.40],[5.05,0.20],[5.1,0.51],[5.13,0.22],[5.16,0.53],[5.21,0.58],[5.26,0.45],[5.29,0.51],[5.38,0.59],[5.46,0.53],[5.54,0.51],[5.59,0.46],[5.65,0.42],[5.7,0.54],[5.78,0.48],[5.86,0.50],[5.94,0.65],[6.03,0.56],[6.11,0.42],[6.14,0.53],[6.19,0.58],[6.27,0.65],[6.3,0.46],[6.35,0.51],[6.43,0.62],[6.52,0.59],[6.6,0.51],[6.68,0.53],[6.76,0.54],[6.84,0.70],[6.92,0.71],[7.0,0.57],[7.09,0.72],[7.25,0.50],[7.33,0.59],[7.66,0.69],[7.74,0.42],[8.14,0.68],[8.23,0.72],[8.31,0.73],[8.39,0.74],[8.47,0.69],[8.55,0.66],[8.63,0.58],[8.72,0.63],[8.8,0.60],[8.88,0.68],[8.96,0.75],[9.04,0.75],[9.2,0.51],[9.28,0.72]];

const godiLP = [[1.78,13.9],[2.88,38.6],[3.12,17.5],[3.23,13.2],[3.33,12.2],[3.72,30.7],[3.77,22.3],[3.82,35.5],[3.85,51.1],[3.88,36.7],[3.93,23.5],[3.98,28.3],[4.01,15.1],[4.04,18.7],[4.09,50.6],[4.14,25.2],[4.17,17.5],[4.21,24.2],[4.26,29.5],[4.3,22.3],[4.34,30.0],[4.37,29.5],[4.42,30.0],[4.47,18.7],[4.5,25.9],[4.58,17.5],[4.63,33.1],[4.66,19.9],[4.69,22.3],[4.74,7.9],[4.79,37.2],[4.82,23.5],[4.85,53.0],[4.9,20.4],[4.95,22.3],[5.02,29.5],[5.15,37.2],[5.23,36.7],[5.31,31.9],[5.39,16.3],[5.47,18.7],[5.55,40.3],[5.6,37.2],[5.67,37.9],[5.71,32.4],[5.96,11.5],[5.99,39.1],[6.09,49.9],[6.41,13.9],[6.48,39.1],[6.69,10.3],[6.73,37.2],[6.85,39.1],[6.9,20.4],[6.93,33.8],[7.01,68.9],[7.09,41.0],[7.17,41.5],[7.25,54.0],[7.29,30.7],[7.42,42.7],[7.55,43.4],[7.61,42.0],[7.71,50.6],[7.87,42.7],[7.93,40.3],[8.03,45.1],[8.1,39.6],[8.19,40.3],[8.26,48.2],[8.31,52.3],[8.36,60.7],[8.42,43.9],[8.52,46.3],[8.58,60.7],[8.71,51.1],[8.79,53.5],[8.84,42.7],[8.87,49.2],[8.96,53.5],[9.04,52.3],[9.12,30.0],[9.2,53.5],[9.28,52.3],[9.39,53.0]];
const godiPPR = [[4.07,22.3],[4.79,17.5],[5.0,13.9],[5.12,12.7],[5.38,7.2],[5.45,37.9],[5.66,11.5],[5.74,12.2],[5.78,21.1],[5.83,29.5],[5.88,38.6],[5.94,33.1],[5.99,29.5],[6.04,34.3],[6.07,42.7],[6.11,25.2],[6.15,29.5],[6.2,34.8],[6.24,39.6],[6.27,18.7],[6.32,29.5],[6.37,17.5],[6.4,36.7],[6.43,17.5],[6.48,52.3],[6.53,29.5],[6.57,37.9],[6.6,54.7],[6.65,19.9],[6.7,51.1],[6.73,15.1],[6.76,51.1],[6.81,29.5],[6.86,24.7],[6.89,27.1],[6.93,45.1],[6.98,23.5],[7.03,19.9],[7.06,24.7],[7.14,22.3],[7.19,56.4],[7.22,30.0],[7.26,36.7],[7.31,31.9],[7.36,10.3],[7.39,38.6],[7.44,41.5],[7.52,40.3],[7.59,53.5],[7.88,22.3],[7.96,42.7],[8.13,11.5],[8.18,13.9],[8.34,41.5],[8.41,51.1],[8.46,63.1],[8.54,41.5],[8.62,42.7],[8.7,63.1],[8.79,55.9],[8.87,70.3],[8.9,51.1],[8.95,55.9],[9.0,30.7],[9.12,54.7],[9.28,48.7],[9.36,52.3]];
const godiIPR = [[2.12,12.7],[2.28,21.8],[2.98,30.7],[3.01,29.5],[3.18,22.8],[3.26,34.3],[3.31,12.2],[3.37,16.3],[3.54,37.2],[3.58,17.5],[4.07,17.5],[4.15,21.8],[4.19,30.0],[4.24,29.5],[4.29,23.5],[4.32,5.0],[4.4,40.3],[4.45,29.5],[4.48,18.7],[4.56,9.1],[4.61,10.3],[4.64,7.4],[4.72,12.7],[4.77,46.3],[4.84,13.2],[4.97,24.7],[5.05,53.5],[5.13,36.2],[5.21,12.7],[5.26,50.6],[5.38,25.9],[5.46,54.7],[5.54,37.9],[5.59,17.5],[5.65,38.6],[5.75,38.6],[5.86,39.1],[5.94,41.5],[6.03,40.3],[6.11,43.9],[6.14,42.7],[6.19,22.3],[6.27,9.8],[6.3,24.7],[6.4,53.5],[6.47,56.4],[6.6,42.7],[6.68,19.9],[6.76,40.3],[6.84,39.6],[6.92,31.9],[7.25,75.1],[7.28,34.3],[7.33,30.7],[7.74,42.0],[7.82,39.1],[8.19,34.3],[8.23,59.5],[8.36,58.3],[8.42,57.1],[8.47,58.3],[8.55,55.4],[8.63,53.5],[8.72,51.1],[8.8,43.9],[8.88,44.4],[8.96,42.7],[9.04,42.0],[9.12,66.7],[9.2,57.1],[9.28,30.7],[9.45,58.3]];

const odbarLP = [[1.58,12.2],[1.91,13.0],[2.75,28.9],[2.96,7.7],[3.04,6.9],[3.12,7.7],[3.17,6.3],[3.23,7.7],[3.33,5.8],[3.4,6.3],[3.49,34.3],[3.53,18.3],[3.61,11.6],[3.66,22.3],[3.69,38.3],[3.72,30.3],[3.77,55.6],[3.82,35.6],[3.85,25.0],[3.88,14.3],[3.93,41.4],[3.98,16.4],[4.01,13.0],[4.04,26.3],[4.09,10.3],[4.14,27.6],[4.17,17.0],[4.21,9.0],[4.26,10.3],[4.3,19.6],[4.34,26.3],[4.37,11.6],[4.42,4.2],[4.47,22.3],[4.5,30.3],[4.53,19.6],[4.58,15.6],[4.63,18.3],[4.66,30.3],[4.69,31.6],[4.74,14.3],[4.79,44.9],[4.82,19.6],[4.85,39.6],[4.9,15.6],[4.95,17.0],[5.02,18.3],[5.07,17.0],[5.15,32.9],[5.23,17.0],[5.31,25.0],[5.39,22.3],[5.44,30.3],[5.5,34.3],[5.55,25.0],[5.6,43.0],[5.67,18.3],[5.71,14.3],[5.79,22.3],[5.88,23.6],[5.96,23.6],[6.09,60.9],[6.12,13.0],[6.2,19.6],[6.36,55.6],[6.44,17.0],[6.61,34.3],[6.69,9.0],[6.77,35.6],[6.85,18.3],[6.93,35.6],[7.01,27.6],[7.09,17.0],[7.25,34.3],[7.29,63.5],[7.42,22.3],[7.58,46.2],[7.71,60.9],[7.82,35.6],[8.06,27.6],[8.15,52.9],[8.19,55.6],[8.36,72.8],[8.39,37.7],[8.47,43.6],[8.58,31.6],[8.71,55.6],[8.79,40.9],[8.87,66.2],[8.96,54.2],[9.04,55.6],[9.2,43.6],[9.28,43.0],[9.36,58.2],[9.44,59.5]];
const odbarPPR = [[4.18,19.6],[4.79,15.6],[4.84,17.0],[4.95,19.6],[5.12,13.0],[5.22,17.0],[5.28,26.3],[5.33,13.8],[5.38,21.0],[5.45,17.0],[5.5,38.3],[5.55,19.6],[5.61,36.9],[5.66,23.6],[5.71,15.6],[5.74,26.3],[5.78,14.3],[5.83,31.6],[5.88,22.3],[5.91,30.3],[5.94,17.0],[5.99,25.0],[6.04,27.6],[6.07,13.0],[6.11,22.3],[6.15,42.2],[6.2,44.9],[6.24,17.5],[6.27,34.3],[6.32,15.6],[6.37,25.0],[6.4,30.3],[6.43,60.9],[6.48,35.6],[6.53,22.3],[6.57,28.9],[6.6,51.6],[6.65,34.3],[6.7,28.9],[6.73,48.9],[6.76,40.9],[6.81,46.2],[6.86,27.6],[6.89,35.6],[6.93,23.6],[6.98,42.2],[7.03,17.0],[7.06,30.3],[7.09,59.5],[7.14,67.5],[7.19,35.6],[7.22,46.2],[7.26,17.0],[7.31,42.2],[7.36,25.0],[7.39,40.9],[7.42,43.6],[7.47,28.9],[7.52,22.3],[7.55,17.0],[7.63,17.0],[7.68,35.6],[7.72,30.3],[7.8,25.0],[7.85,25.0],[7.91,25.0],[7.96,35.6],[8.01,58.2],[8.05,58.2],[8.13,56.9],[8.18,59.5],[8.21,40.9],[8.29,66.2],[8.38,38.3],[8.41,48.9],[8.46,30.3],[8.51,67.5],[8.54,62.2],[8.57,54.2],[8.62,71.5],[8.67,60.9],[8.74,64.9],[8.79,48.9],[8.84,28.9],[8.87,62.2],[8.9,59.5],[8.95,50.2],[9.12,47.6],[9.28,64.9]];
const odbarIPR = [[1.71,9.0],[2.44,18.3],[2.53,17.0],[2.69,40.4],[2.93,35.6],[3.26,25.0],[3.31,13.0],[3.37,14.8],[3.47,11.6],[3.54,22.3],[3.58,25.0],[3.63,11.6],[3.67,12.2],[3.7,19.6],[3.75,28.9],[3.8,30.3],[3.83,27.6],[3.91,14.3],[3.96,25.0],[3.99,17.0],[4.07,19.6],[4.15,11.6],[4.24,17.0],[4.29,35.6],[4.32,15.6],[4.35,23.6],[4.4,36.9],[4.45,19.6],[4.48,21.0],[4.51,34.3],[4.56,11.6],[4.61,30.3],[4.64,28.9],[4.68,26.3],[4.72,13.0],[4.77,22.3],[4.81,35.6],[4.89,17.0],[4.94,52.1],[4.97,25.0],[5.05,13.0],[5.13,15.6],[5.21,30.3],[5.26,25.0],[5.33,35.6],[5.38,43.6],[5.43,22.3],[5.46,27.6],[5.54,47.6],[5.62,35.6],[5.7,22.3],[5.75,22.3],[5.78,21.0],[5.86,35.6],[5.94,60.9],[6.03,28.9],[6.11,35.6],[6.14,25.0],[6.19,23.6],[6.27,30.3],[6.35,23.6],[6.43,35.6],[6.52,44.9],[6.6,48.9],[6.68,25.0],[6.76,23.6],[6.84,35.6],[6.89,67.5],[6.92,38.3],[7.0,60.9],[7.17,35.6],[7.25,39.6],[7.41,26.3],[7.57,27.6],[7.74,40.9],[8.14,42.2],[8.23,70.2],[8.31,72.8],[8.39,62.2],[8.47,68.9],[8.55,71.5],[8.63,56.9],[8.72,59.5],[8.8,62.2],[8.88,62.2],[8.96,79.5],[9.04,66.2],[9.12,67.5],[9.2,48.9],[9.28,48.9]];

// ---------- assemble (rows x columns) ----------
const panelPoints = [
  [egovLP, egovPPR, egovIPR], [epartLP, epartPPR, epartIPR], [nriLP, nriPPR, nriIPR],
  [gciLP, gciPPR, gciIPR], [tiiLP, tiiPPR, tiiIPR], [idiLP, idiPPR, idiIPR],
  [osiLP, osiPPR, osiIPR], [godiLP, godiPPR, godiIPR], [odbarLP, odbarPPR, odbarIPR]
];
const panelFits = [fitEGOV, fitEPART, fitNRI, fitGCI, fitTII, fitIDI, fitOSI, fitGODI, fitODBAR];
const panelR2 = [r2EGOV, r2EPART, r2NRI, r2GCI, r2TII, r2IDI, r2OSI, r2GODI, r2ODBAR];

// ---------- layout (pixels) ----------
const colLeft = [64, 299, 532], colRight = [299, 532, 769];
const colTickLoPx = [67, 306, 540], colTickHiPx = [291, 527, 763];
const rowEdge = [32, 184.5, 334, 482.5, 630, 780.5, 929.5, 1080, 1230, 1383];
const rowTickHiPx = [44, 200, 345, 493, 640, 791, 943, 1092, 1242];
const rowTickLoPx = [169, 325, 470, 618, 765, 916, 1068, 1217, 1366];
const r2Pos = [[[218,51],[424,51],[703,51]], [[215,203],[441,204],[691,204]], [[213,355],[441,355],[699,355]],
  [[213,499],[441,499],[699,499]], [[195,643],[426,643],[681,643]], [[198,799],[426,799],[690,799]],
  [[225,953],[426,954],[666,958]], [[205,1103],[410,1106],[647,1109]], [[201,1259],[402,1260],[644,1264]]];
const headerX = [173, 416, 658];

const FONT = 'Liberation Sans, Arial, sans-serif';
const grids = [], xAxes = [], yAxes = [], series = [], graphics = [];
let idx = 0;
for (let r = 0; r < 9; r++) {
  const [lo, hi] = yTickValues[r];
  const perY = (hi - lo) / (rowTickLoPx[r] - rowTickHiPx[r]);
  const yMin = lo - (rowEdge[r + 1] - rowTickLoPx[r]) * perY;
  const yMax = hi + (rowTickHiPx[r] - rowEdge[r]) * perY;
  for (let c = 0; c < 3; c++) {
    const perX = (xTickValues[1] - xTickValues[0]) / (colTickHiPx[c] - colTickLoPx[c]);
    const xMin = xTickValues[0] - (colTickLoPx[c] - colLeft[c]) * perX;
    const xMax = xTickValues[1] + (colRight[c] - colTickHiPx[c]) * perX;
    grids.push({ left: colLeft[c], top: rowEdge[r], width: colRight[c] - colLeft[c], height: rowEdge[r + 1] - rowEdge[r],
      show: true, borderColor: '#c6c6c6', borderWidth: 1, backgroundColor: 'transparent', containLabel: false, outerBoundsMode: 'none' });
    const bottomRow = r === 8;
    xAxes.push({ type: 'value', gridIndex: idx, min: xMin, max: xMax, show: bottomRow, position: 'bottom',
      splitLine: { show: false },
      axisLine: { show: bottomRow, onZero: false, lineStyle: { color: '#c6c6c6', width: 1 } },
      axisTick: { show: bottomRow, customValues: xTickValues, length: 7, lineStyle: { color: '#c6c6c6', width: 1.5 } },
      axisLabel: { show: bottomRow, customValues: xTickValues, margin: 11, fontSize: 7, color: '#595959', fontFamily: FONT,
        formatter: v => (Math.abs(v - xTickValues[0]) < 1e-9 ? xTickLabels[0] : xTickLabels[1]) } });
    const rightCol = c === 2;
    yAxes.push({ type: 'value', gridIndex: idx, min: yMin, max: yMax, position: 'right', show: rightCol,
      splitLine: { show: false },
      axisLine: { show: rightCol, onZero: false, lineStyle: { color: '#c6c6c6', width: 1 } },
      axisTick: { show: rightCol, customValues: yTickValues[r], length: 14, lineStyle: { color: '#c6c6c6', width: 1.5 } },
      axisLabel: { show: rightCol, customValues: yTickValues[r], margin: 27, fontSize: 7.5, color: '#595959', fontFamily: FONT,
        formatter: v => (Math.abs(v - hi) < 1e-9 ? yTickLabels[r][1] : yTickLabels[r][0]) } });
    series.push({ type: 'scatter', xAxisIndex: idx, yAxisIndex: idx, data: panelPoints[r][c],
      symbol: 'diamond', symbolSize: 5, itemStyle: { color: pointColors[r], opacity: 1 }, silent: true, clip: false, animation: false });
    series.push({ type: 'line', xAxisIndex: idx, yAxisIndex: idx, data: fitX.map((x, i) => [x, panelFits[r][c][i]]),
      smooth: 0.5, showSymbol: false, lineStyle: { color: '#1a1a1a', width: 1.3 }, silent: true, animation: false, z: 3 });
    graphics.push({ type: 'text', x: r2Pos[r][c][0], y: r2Pos[r][c][1], silent: true,
      style: { text: 'R² = ' + panelR2[r][c], align: 'center', verticalAlign: 'middle', fontSize: 7.5, fill: '#595959', fontFamily: FONT } });
    idx++;
  }
  graphics.push({ type: 'text', x: 42, y: (rowEdge[r] + rowEdge[r + 1]) / 2, rotation: Math.PI / 2, silent: true,
    style: { text: indicators[r], align: 'center', verticalAlign: 'middle', fontSize: 12.5, fill: '#1a1a1a', fontFamily: FONT } });
}
for (let c = 0; c < 3; c++) {
  graphics.push({ type: 'text', x: headerX[c], y: 18, silent: true,
    style: { text: columns[c], align: 'center', verticalAlign: 'middle', fontSize: 13, fill: '#1a1a1a', fontFamily: FONT } });
}
graphics.push({ type: 'line', silent: true, shape: { x1: 8, y1: 32, x2: 8, y2: 1383 }, style: { stroke: '#c6c6c6', lineWidth: 1.5 } });

const chart = echarts.init(document.getElementById('c'), null, { renderer: 'canvas' });
chart.setOption({ animation: false, backgroundColor: '#ffffff', grid: grids, xAxis: xAxes, yAxis: yAxes, series: series, graphic: graphics });
</script>
</body></html>
